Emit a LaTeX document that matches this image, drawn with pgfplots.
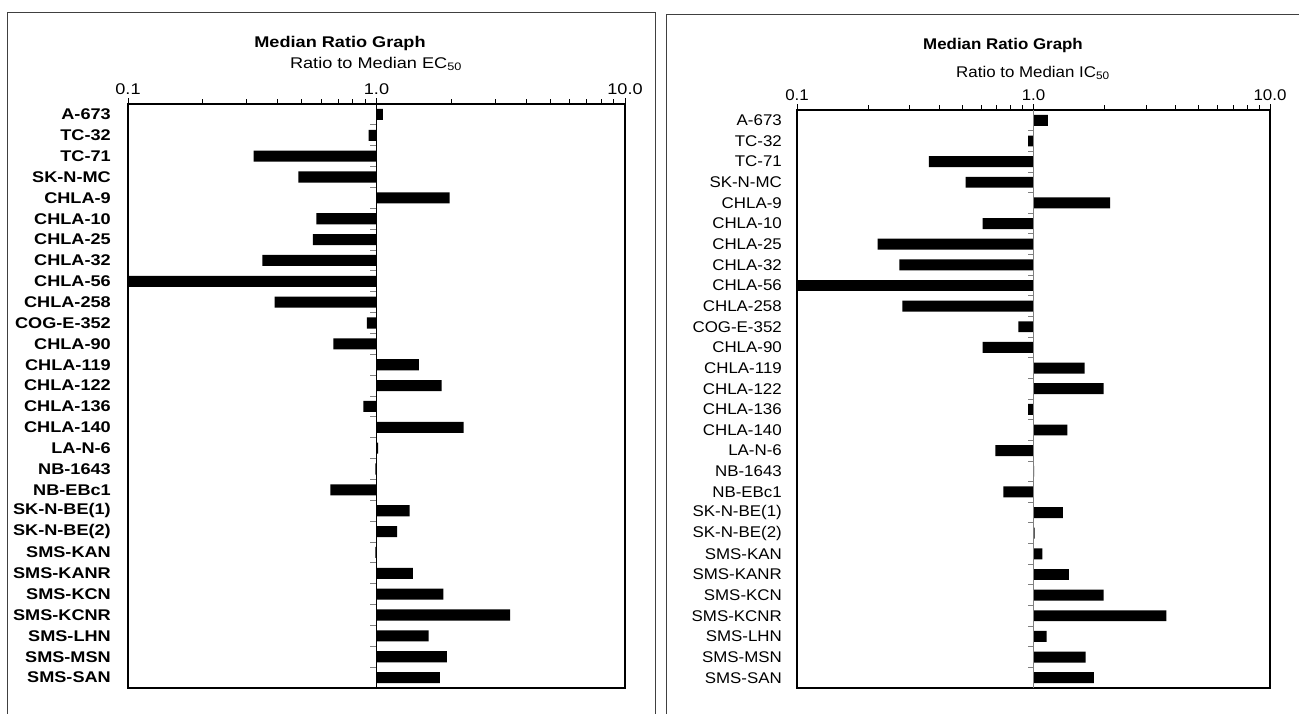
\documentclass[border=0pt]{standalone}
\usepackage{pgfplots}
\pgfplotsset{compat=1.18}
\usepackage{pgfplotstable}
\usepackage{fontspec}
\setmainfont{Liberation Sans}
\newfontfamily\lfont[FakeStretch=1.17]{Liberation Sans}
\newfontfamily\rfont[FakeStretch=1.09]{Liberation Sans}

\pgfplotstableread{
idx val
0 1.06
1 0.93
2 0.32
3 0.485
4 1.97
5 0.573
6 0.554
7 0.347
8 0.1
9 0.389
10 0.914
11 0.671
12 1.48
13 1.83
14 0.886
15 2.24
16 1.015
17 0.99
18 0.652
19 1.36
20 1.21
21 0.99
22 1.40
23 1.86
24 3.45
25 1.62
26 1.92
27 1.80
}\ectable

\pgfplotstableread{
idx val
0 1.15
1 0.95
2 0.361
3 0.517
4 2.11
5 0.61
6 0.219
7 0.271
8 0.1
9 0.279
10 0.864
11 0.61
12 1.645
13 1.98
14 0.95
15 1.39
16 0.69
17 1.005
18 0.746
19 1.33
20 1.01
21 1.09
22 1.41
23 1.98
24 3.65
25 1.135
26 1.66
27 1.80
}\ictable

\begin{document}
\begin{tikzpicture}
\useasboundingbox (0pt,0pt) rectangle (1299pt,-713pt);
\draw[line width=1pt, black!75] (7.5pt,-12.5pt) rectangle (655pt,-740pt);
\draw[line width=1pt, black!75] (666pt,-14.5pt) rectangle (1340pt,-740pt);

% Left panel
\begin{axis}[
  scale only axis, xmode=log, xmin=0.1, xmax=10,
  ymin=-0.5, ymax=27.5, y dir=reverse,
  xbar, bar width=0.53,
  xtick={0.1,1,10}, xticklabels={0.1,1.0,10.0},
  minor xtick={0.2,0.3,0.4,0.5,0.6,0.7,0.8,0.9,2,3,4,5,6,7,8,9},
  xtick pos=upper, xticklabel pos=upper, tick align=outside,
  major tick length=6pt, minor tick length=5pt,
  tick style={black, line width=0.8pt},
  ytick={0,...,27}, ytick style={draw=none},
  yticklabels={A-673,TC-32,TC-71,SK-N-MC,CHLA-9,CHLA-10,CHLA-25,CHLA-32,CHLA-56,CHLA-258,COG-E-352,CHLA-90,CHLA-119,CHLA-122,CHLA-136,CHLA-140,LA-N-6,NB-1643,NB-EBc1,SK-N-BE(1),SK-N-BE(2),SMS-KAN,SMS-KANR,SMS-KCN,SMS-KCNR,SMS-LHN,SMS-MSN,SMS-SAN},
  axis line style={line width=1.3pt, black},
  at={(128pt,-688pt)}, anchor=south west, width=497pt, height=584pt,
  xticklabel style={font=\lfont\fontsize{15.5}{15.5}\selectfont},
  yticklabel style={font=\lfont\bfseries\fontsize{15.5}{15.5}\selectfont, anchor=east, inner sep=0pt, xshift=-11pt},
]
\addplot[fill=black, draw=none] table[x=val, y=idx] {\ectable};
\pgfplotsinvokeforeach{0.5,1.5,...,26.5}{\draw[gray, line width=0.8pt] (axis cs:1,#1) -- ++(-6pt,0pt);}
\draw[black, line width=1pt] (axis cs:1,-0.5) -- (axis cs:1,27.5);
\end{axis}
\node[font=\lfont\bfseries\fontsize{15.5}{15.5}\selectfont] at (340pt,-43pt) {Median Ratio Graph};
\node[font=\lfont\fontsize{15.5}{15.5}\selectfont] at (376pt,-64pt) {Ratio to Median EC\textsubscript{50}};

% Right panel
\begin{axis}[
  scale only axis, xmode=log, xmin=0.1, xmax=10,
  ymin=-0.5, ymax=27.5, y dir=reverse,
  xbar, bar width=0.53,
  xtick={0.1,1,10}, xticklabels={0.1,1.0,10.0},
  minor xtick={0.2,0.3,0.4,0.5,0.6,0.7,0.8,0.9,2,3,4,5,6,7,8,9},
  xtick pos=upper, xticklabel pos=upper, tick align=outside,
  major tick length=6pt, minor tick length=5pt,
  tick style={black, line width=0.8pt},
  ytick={0,...,27}, ytick style={draw=none},
  yticklabels={A-673,TC-32,TC-71,SK-N-MC,CHLA-9,CHLA-10,CHLA-25,CHLA-32,CHLA-56,CHLA-258,COG-E-352,CHLA-90,CHLA-119,CHLA-122,CHLA-136,CHLA-140,LA-N-6,NB-1643,NB-EBc1,SK-N-BE(1),SK-N-BE(2),SMS-KAN,SMS-KANR,SMS-KCN,SMS-KCNR,SMS-LHN,SMS-MSN,SMS-SAN},
  axis line style={line width=1.3pt, black},
  at={(797pt,-688pt)}, anchor=south west, width=473pt, height=578pt,
  xticklabel style={font=\rfont\fontsize{15.5}{15.5}\selectfont},
  yticklabel style={font=\rfont\fontsize{15.5}{15.5}\selectfont, anchor=east, inner sep=0pt, xshift=-9pt},
]
\addplot[fill=black, draw=none] table[x=val, y=idx] {\ictable};
\pgfplotsinvokeforeach{0.5,1.5,...,26.5}{\draw[gray, line width=0.8pt] (axis cs:1,#1) -- ++(-6pt,0pt);}
\draw[gray, line width=1pt] (axis cs:1,-0.5) -- (axis cs:1,27.5);
\end{axis}
\node[font=\rfont\bfseries\fontsize{15.5}{15.5}\selectfont] at (1003pt,-45pt) {Median Ratio Graph};
\node[font=\rfont\fontsize{15.5}{15.5}\selectfont] at (1033pt,-73pt) {Ratio to Median IC\textsubscript{50}};
\end{tikzpicture}
\end{document}
